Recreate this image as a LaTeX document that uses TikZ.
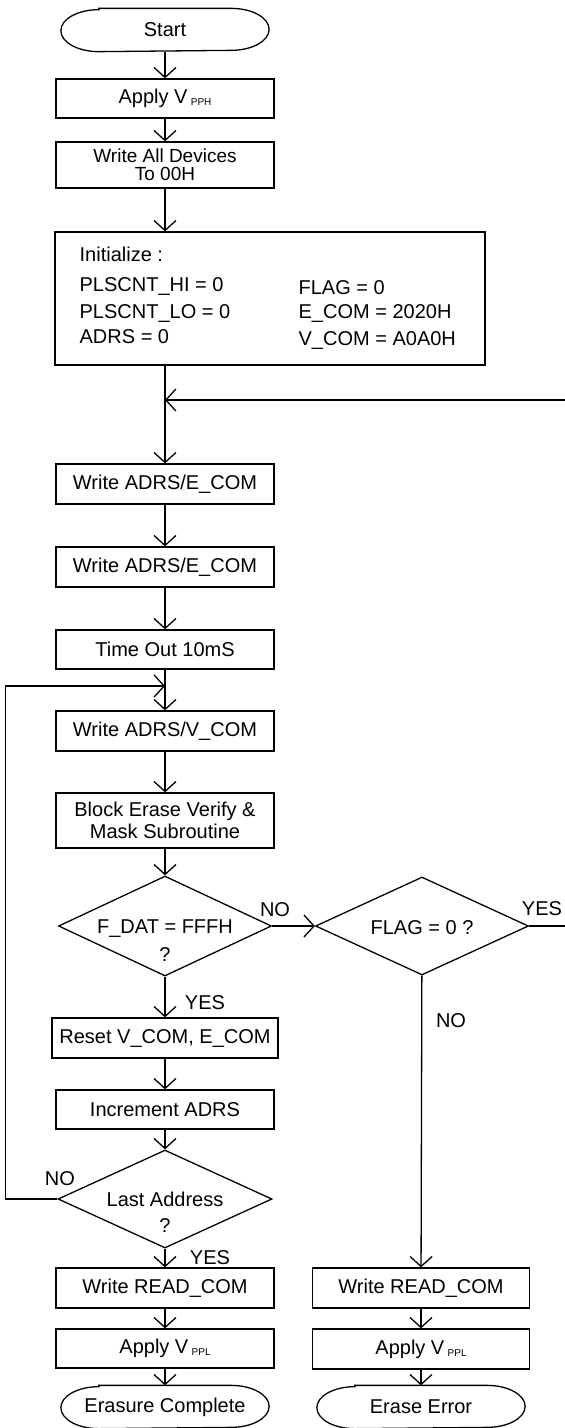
\documentclass[tikz,border=0pt]{standalone}
\usepackage{fontspec}
\setmainfont{Liberation Sans}
\usetikzlibrary{arrows.meta,shapes.geometric}

\newcommand{\vsub}[1]{\,{\fontsize{10}{10}\selectfont\raisebox{-2pt}{#1}}}

\begin{document}
\begin{tikzpicture}[x=1pt,y=-1pt,line width=1.3pt,
    every node/.style={font=\fontsize{20}{24}\selectfont},
    box/.style={draw,rectangle,minimum width=218pt,minimum height=40pt,inner sep=0pt},
    dec/.style={draw,diamond,minimum width=213pt,minimum height=99pt,inner sep=0pt},
    term/.style={rectangle,minimum width=207pt,minimum height=42pt,inner sep=0pt},
    lbl/.style={inner sep=0pt},
    arr/.style={-{Straight Barb[length=10pt,width=22pt]}}]
        \useasboundingbox (0,0) rectangle (565,1428);
        \clip (0,0) rectangle (565,1428);

        % left column
        \node[term] (start) at (165,30) {Start};
        \node[box,minimum height=39pt] (vpph) at (165,98.5) {Apply V\vsub{PPH}};
        \node[box,minimum height=46pt,align=center,font=\fontsize{19}{18}\selectfont] (wall) at (165,165) {Write All Devices\\To 00H};

        \node[draw,minimum width=430pt,minimum height=133pt,inner sep=0pt] (init) at (270,298.5) {};
        \node[lbl,anchor=west] (ini) at (79,254) {Initialize :};
        \node[lbl,anchor=west] (phi) at (79,286) {PLSCNT\_HI = 0};
        \node[lbl,anchor=west] (plo) at (79,313) {PLSCNT\_LO = 0};
        \node[lbl,anchor=west] (adrs) at (79,337) {ADRS = 0};
        \node[lbl,anchor=west] (flg) at (298,288) {FLAG = 0};
        \node[lbl,anchor=west] (ecm) at (298,313) {E\_COM = 2020H};
        \node[lbl,anchor=west] (vcm) at (298,340) {V\_COM = A0A0H};

        \coordinate (j1) at (165,400);
        \node[box] (ecom1) at (165,484) {Write ADRS/E\_COM};
        \node[box] (ecom2) at (165,567) {Write ADRS/E\_COM};
        \node[box,minimum height=39pt] (tout) at (165,649.5) {Time Out 10mS};
        \coordinate (j2) at (165,686);
        \node[box] (vcom) at (165,731) {Write ADRS/V\_COM};
        \node[box,minimum height=55pt,align=center,font=\fontsize{20}{22}\selectfont] (bev) at (165,820.5) {Block Erase Verify \&\\Mask Subroutine};

        \node[dec,minimum height=100pt] (fdat) at (165,926) {};
        \node[lbl,align=center,font=\fontsize{20}{28}\selectfont] (fdatq) at (165,941) {F\_DAT = FFFH\\?};

        \node[box,minimum width=226pt] (reset) at (165,1038) {Reset V\_COM, E\_COM};
        \node[box,minimum height=39pt] (incr) at (165,1109.5) {Increment ADRS};
        \node[dec,minimum width=214pt,minimum height=98pt] (last) at (165,1199) {};
        \node[lbl,align=center,font=\fontsize{20}{26}\selectfont] (lastq) at (165,1212) {Last Address\\?};
        \node[box] (rdl) at (165,1288) {Write READ\_COM};
        \node[box,minimum height=39pt] (vppl) at (165,1348.5) {Apply V\vsub{PPL}};
        \node[term] (done) at (165,1407) {Erasure Complete};

        % right column
        \node[dec,minimum height=98pt] (flag) at (422,926) {};
        \node[lbl] (flagq) at (422,928) {FLAG = 0 ?};
        \node[box,minimum width=217pt] (rdr) at (421,1288) {Write READ\_COM};
        \node[box,minimum width=217pt] (vppr) at (421,1349) {Apply V\vsub{PPL}};
        \node[term] (fail) at (421,1407) {Erase Error};

        % yes / no
        \node[lbl] (nof) at (275,910) {NO};
        \node[lbl] (yesf) at (205,1003) {YES};
        \node[lbl] (yesg) at (542,909) {YES};
        \node[lbl] (nog) at (451,1021) {NO};
        \node[lbl] (nol) at (60,1179) {NO};
        \node[lbl] (yesl) at (210,1258) {YES};

        % terminal outlines
        \foreach \t in {start,done,fail}
            \draw ([xshift=38pt]\t.north west) -- ([xshift=-38pt]\t.north east)
                arc[start angle=90,end angle=-90,x radius=38pt,y radius=21pt]
                -- ([xshift=38pt]\t.south west)
                arc[start angle=270,end angle=90,x radius=38pt,y radius=21pt] -- cycle;

        \draw[arr] (start) -- (vpph);
        \draw[arr] (vpph) -- (wall);
        \draw[arr] (wall) -- (wall.south |- init.north);
        \draw[arr] (init.south -| ecom1) -- (ecom1.north);
        \draw[arr] (ecom1) -- (ecom2);
        \draw[arr] (ecom2) -- (tout);
        \draw[arr] (tout) -- (vcom);
        \draw[arr] (vcom) -- (bev);
        \draw[arr] (bev) -- (fdat);
        \draw[arr] (fdat) -- (flag);
        \draw[arr] (fdat) -- (reset);
        \draw[arr] (reset) -- (incr);
        \draw[arr] (incr) -- (last);
        \draw[arr] (last) -- (rdl);
        \draw[arr] (rdl) -- (vppl);
        \draw[arr] (vppl) -- (done);
        \draw[arr] (flag) -- (rdr);
        \draw[arr] (rdr) -- (vppr);
        \draw[arr] (vppr) -- (fail);

        % loops back
        \draw[arr] (flag.east) -- ++(40,0) |- (j1);
        \draw[arr] (last.west) -- ++(-52,0) |- (j2);
\end{tikzpicture}
\end{document}
